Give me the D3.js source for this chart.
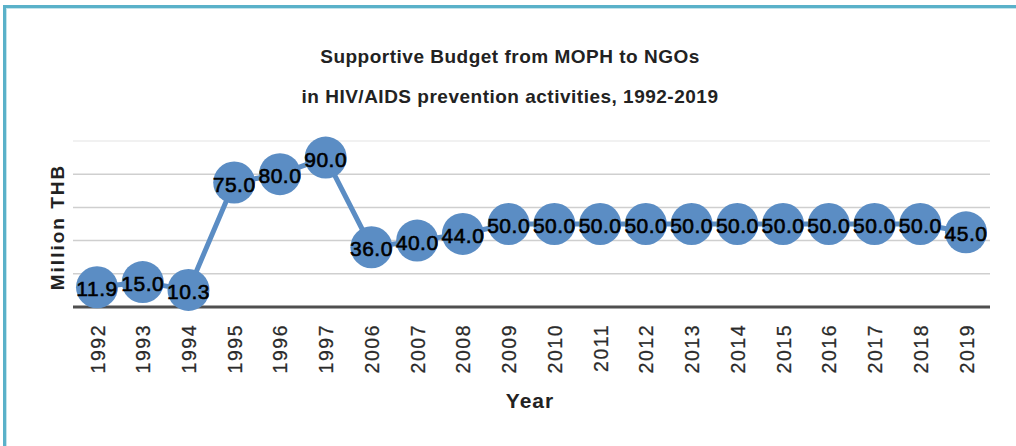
<!DOCTYPE html>
<html>
<head>
<meta charset="utf-8">
<script src="https://cdn.jsdelivr.net/npm/d3@7"></script>
<style>
  html, body { margin: 0; padding: 0; background: #fff; }
  svg { display: block; }
</style>
</head>
<body>
<svg id="chart" width="1016" height="446"></svg>
<script>
const years = ["1992","1993","1994","1995","1996","1997","2006","2007","2008","2009","2010","2011","2012","2013","2014","2015","2016","2017","2018","2019"];
const budget = [11.9, 15.0, 10.3, 75.0, 80.0, 90.0, 36.0, 40.0, 44.0, 50.0, 50.0, 50.0, 50.0, 50.0, 50.0, 50.0, 50.0, 50.0, 50.0, 45.0];
const yTicks = [0, 20, 40, 60, 80, 100];
const titleLines = ["Supportive Budget from MOPH to NGOs", "in HIV/AIDS prevention activities, 1992-2019"];
const xTitle = "Year";
const yTitle = "Million THB";

const data = years.map((y, i) => ({ year: y, value: budget[i] }));
const svg = d3.select("#chart");
const FONT = "'Liberation Sans', Arial, Helvetica, sans-serif";
const BLUE = "#5b8dc4";

// frame border
svg.append("rect").attr("x", 4.5).attr("y", 6.5).attr("width", 1100).attr("height", 600)
  .attr("fill", "none").attr("stroke", "#5ab1c9").attr("stroke-width", 3);
svg.append("rect").attr("x", 6.5).attr("y", 8.5).attr("width", 1100).attr("height", 600)
  .attr("fill", "none").attr("stroke", "#c3e4ec").attr("stroke-width", 1);

const plotLeft = 73, plotRight = 990;
const x = d3.scalePoint().domain(years).range([97, 966]);
const y = d3.scaleLinear().domain([0, 100]).range([307, 141]);

// gridlines
const grid = svg.append("g").attr("class", "grid");
grid.selectAll("line").data(yTicks.filter(t => t > 0)).join("line")
  .attr("x1", plotLeft).attr("x2", plotRight)
  .attr("y1", d => y(d)).attr("y2", d => y(d))
  .attr("stroke", d => d === 100 ? "#ececec" : "#cfcfcf")
  .attr("stroke-width", 1.5);

// x axis baseline + tick labels
const xAxis = svg.append("g").attr("transform", `translate(0,${y(0)})`)
  .call(d3.axisBottom(x).tickSize(0).tickPadding(0));
xAxis.select(".domain").remove();
xAxis.append("line").attr("x1", plotLeft).attr("x2", plotRight).attr("y1", 0).attr("y2", 0)
  .attr("stroke", "#4f4f4f").attr("stroke-width", 3);
xAxis.selectAll(".tick text")
  .attr("transform", "rotate(-90)")
  .attr("x", -17).attr("y", 0).attr("dy", "0.36em")
  .attr("text-anchor", "end")
  .attr("font-family", FONT).attr("font-size", 19.5)
  .attr("letter-spacing", "1.5px")
  .attr("fill", "#2a2a2a")
  .attr("stroke", "#2a2a2a").attr("stroke-width", 0.25);

// line
svg.append("path").datum(data)
  .attr("fill", "none").attr("stroke", BLUE).attr("stroke-width", 5)
  .attr("stroke-linejoin", "round")
  .attr("d", d3.line().x(d => x(d.year)).y(d => y(d.value)));

// markers
svg.append("g").selectAll("circle").data(data).join("circle")
  .attr("cx", d => x(d.year)).attr("cy", d => y(d.value)).attr("r", 21)
  .attr("fill", BLUE);

// data labels
svg.append("g").selectAll("text").data(data).join("text")
  .attr("x", d => x(d.year)).attr("y", d => y(d.value) + 9)
  .attr("text-anchor", "middle")
  .attr("font-family", FONT).attr("font-size", 21)
  .attr("letter-spacing", "0.5px")
  .attr("fill", "#000")
  .attr("stroke", "#000").attr("stroke-width", 0.6)
  .text(d => d.value.toFixed(1));

// title
svg.append("g").selectAll("text").data(titleLines).join("text")
  .attr("x", 510).attr("y", (d, i) => 63 + i * 40)
  .attr("text-anchor", "middle")
  .attr("font-family", FONT).attr("font-size", 19).attr("font-weight", "bold")
  .attr("letter-spacing", "0.5px")
  .attr("fill", "#222")
  .text(d => d);

// axis titles
svg.append("text").attr("x", 530).attr("y", 408)
  .attr("text-anchor", "middle")
  .attr("font-family", FONT).attr("font-size", 21).attr("font-weight", "bold")
  .attr("letter-spacing", "1px").attr("fill", "#222")
  .text(xTitle);

svg.append("text").attr("transform", "translate(64,227) rotate(-90)")
  .attr("text-anchor", "middle")
  .attr("font-family", FONT).attr("font-size", 19).attr("font-weight", "bold")
  .attr("letter-spacing", "2px").attr("fill", "#222")
  .text(yTitle);
</script>
</body>
</html>
